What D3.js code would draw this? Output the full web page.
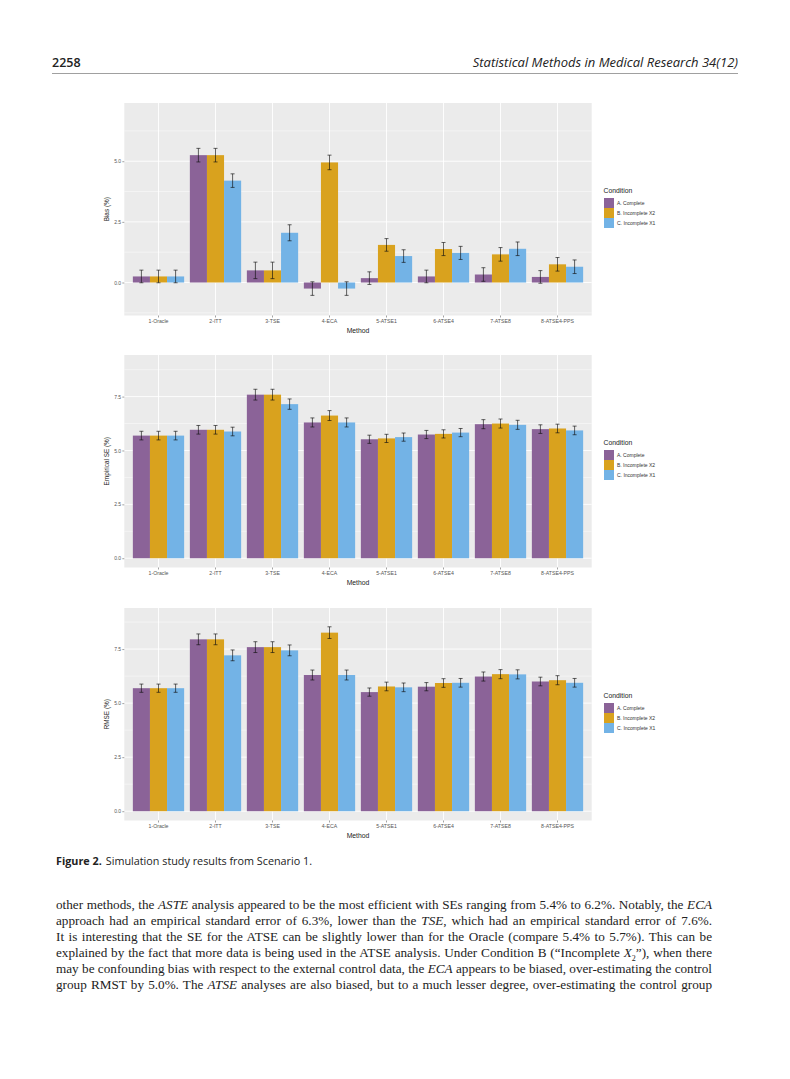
<!DOCTYPE html>
<html>
<head>
<meta charset="utf-8">
<script src="https://cdn.jsdelivr.net/npm/d3@7"></script>
<style>
  body { margin: 0; background: #fff; }
  #page { position: relative; width: 790px; height: 1079px; overflow: hidden; }
  svg { position: absolute; left: 0; top: 0; }
  .body-text { position: absolute; left: 56px; width: 656px; font-family: "Liberation Serif", "Times New Roman", serif;
    font-size: 13.2px; color: #222; }
  .body-text div { height: 16px; line-height: 16px; text-align: justify; text-align-last: justify; white-space: nowrap; }
  .body-text div.j { white-space: normal; }
</style>
</head>
<body>
<div id="page"></div>
<script>
/* chart data */
const methods = ["1-Oracle", "2-ITT", "3-TSE", "4-ECA", "5-ATSE1", "6-ATSE4", "7-ATSE8", "8-ATSE4-PPS"]
const conditions = ["A. Complete", "B. Incomplete X2", "C. Incomplete X1"]
const condition_colors = ["#8b6398", "#d9a21e", "#73b3e6"]

// panel 1 : Bias (%)
const bias_A = [0.25, 5.25, 0.50, -0.25, 0.18, 0.25, 0.33, 0.23]
const bias_B = [0.25, 5.25, 0.50, 4.95, 1.55, 1.38, 1.16, 0.75]
const bias_C = [0.25, 4.20, 2.05, -0.25, 1.09, 1.22, 1.39, 0.65]
const bias_err_A = [0.26, 0.28, 0.34, 0.28, 0.26, 0.26, 0.28, 0.26]
const bias_err_B = [0.26, 0.28, 0.34, 0.30, 0.26, 0.27, 0.28, 0.28]
const bias_err_C = [0.26, 0.28, 0.33, 0.28, 0.26, 0.27, 0.28, 0.28]

// panel 2 : Empirical SE (%)
const se_A = [5.69, 5.96, 7.59, 6.30, 5.52, 5.74, 6.22, 5.99]
const se_B = [5.69, 5.96, 7.59, 6.62, 5.56, 5.77, 6.25, 6.02]
const se_C = [5.69, 5.88, 7.15, 6.30, 5.62, 5.83, 6.19, 5.93]
const se_err_A = [0.20, 0.20, 0.25, 0.21, 0.19, 0.19, 0.21, 0.20]
const se_err_B = [0.20, 0.20, 0.25, 0.23, 0.19, 0.19, 0.21, 0.20]
const se_err_C = [0.20, 0.20, 0.24, 0.21, 0.19, 0.19, 0.21, 0.20]

// panel 3 : RMSE (%)
const rmse_A = [5.69, 7.95, 7.59, 6.30, 5.51, 5.76, 6.23, 6.00]
const rmse_B = [5.69, 7.95, 7.59, 8.26, 5.77, 5.93, 6.34, 6.06]
const rmse_C = [5.69, 7.21, 7.44, 6.30, 5.73, 5.94, 6.33, 5.94]
const rmse_err_A = [0.19, 0.25, 0.25, 0.23, 0.19, 0.19, 0.21, 0.20]
const rmse_err_B = [0.19, 0.25, 0.25, 0.27, 0.20, 0.20, 0.21, 0.21]
const rmse_err_C = [0.19, 0.25, 0.25, 0.23, 0.20, 0.20, 0.21, 0.20]

const y_ticks = [0, 2.5, 5, 7.5]
const y_minor = [-1.25, 1.25, 3.75, 6.25, 8.75]

const panels = [
    { title: "Bias (%)", top: 103, domain: [-1.36, 7.4],
      values: [bias_A, bias_B, bias_C], errors: [bias_err_A, bias_err_B, bias_err_C] },
    { title: "Empirical SE (%)", top: 355, domain: [-0.43, 9.43],
      values: [se_A, se_B, se_C], errors: [se_err_A, se_err_B, se_err_C] },
    { title: "RMSE (%)", top: 608, domain: [-0.43, 9.4],
      values: [rmse_A, rmse_B, rmse_C], errors: [rmse_err_A, rmse_err_B, rmse_err_C] }
]

/* layout */
const plot = { left: 124.3, right: 591.7, height: 212.5 }
const sans = "'Liberation Sans', Arial, sans-serif"

const svg = d3.select("#page").append("svg")
    .attr("width", 790)
    .attr("height", 1079)

// page header
svg.append("text").attr("x", 52).attr("y", 66.5)
    .attr("font-family", "'Open Sans', sans-serif").attr("font-weight", 600)
    .attr("font-size", 12.5).attr("fill", "#222").text("2258")
svg.append("text").attr("x", 738).attr("y", 66.5).attr("text-anchor", "end")
    .attr("font-family", "'Open Sans', sans-serif").attr("font-style", "italic")
    .attr("font-size", 13).attr("fill", "#222").text("Statistical Methods in Medical Research 34(12)")
svg.append("line").attr("x1", 52).attr("x2", 738).attr("y1", 73.5).attr("y2", 73.5)
    .attr("stroke", "#777").attr("stroke-width", 0.7)

// x scales shared by all panels (ggplot style dodge, width 0.9)
const xScale = d3.scaleBand().domain(methods).range([plot.left, plot.right])
    .paddingInner(0.1).paddingOuter(0.15)
const xInner = d3.scaleBand().domain(d3.range(conditions.length)).range([0, xScale.bandwidth()])

function build_panel(p) {
    const y = d3.scaleLinear().domain(p.domain).range([p.top + plot.height, p.top])
    const g = svg.append("g")

    // grey background
    g.append("rect").attr("x", plot.left).attr("y", p.top)
        .attr("width", plot.right - plot.left).attr("height", plot.height)
        .attr("fill", "#ebebeb")

    const inDomain = v => v >= p.domain[0] && v <= p.domain[1]

    // minor grid
    g.selectAll(".minor").data(y_minor.filter(inDomain)).join("line")
        .attr("x1", plot.left).attr("x2", plot.right)
        .attr("y1", d => y(d)).attr("y2", d => y(d))
        .attr("stroke", "#fff").attr("stroke-width", 0.45)
    // major grid
    g.selectAll(".major").data(y_ticks.filter(inDomain)).join("line")
        .attr("x1", plot.left).attr("x2", plot.right)
        .attr("y1", d => y(d)).attr("y2", d => y(d))
        .attr("stroke", "#fff").attr("stroke-width", 0.9)
    g.selectAll(".vgrid").data(methods).join("line")
        .attr("x1", d => xScale(d) + xScale.bandwidth() / 2).attr("x2", d => xScale(d) + xScale.bandwidth() / 2)
        .attr("y1", p.top).attr("y2", p.top + plot.height)
        .attr("stroke", "#fff").attr("stroke-width", 0.9)

    // bars
    p.values.forEach((series, ci) => {
        g.selectAll(".bar" + ci).data(series).join("rect")
            .attr("x", (d, i) => xScale(methods[i]) + xInner(ci))
            .attr("width", xInner.bandwidth())
            .attr("y", d => y(Math.max(0, d)))
            .attr("height", d => Math.abs(y(d) - y(0)))
            .attr("fill", condition_colors[ci])
    })

    // error bars
    p.values.forEach((series, ci) => {
        series.forEach((v, i) => {
            const cx = xScale(methods[i]) + xInner(ci) + xInner.bandwidth() / 2
            const e = p.errors[ci][i]
            const eb = g.append("g").attr("stroke", "#111").attr("stroke-width", 0.65)
            eb.append("line").attr("x1", cx).attr("x2", cx).attr("y1", y(v - e)).attr("y2", y(v + e))
            eb.append("line").attr("x1", cx - 2).attr("x2", cx + 2).attr("y1", y(v - e)).attr("y2", y(v - e))
            eb.append("line").attr("x1", cx - 2).attr("x2", cx + 2).attr("y1", y(v + e)).attr("y2", y(v + e))
        })
    })

    // y axis
    const yAxis = d3.axisLeft(y).tickValues(y_ticks.filter(inDomain))
        .tickFormat(d3.format(".1f")).tickSize(2).tickPadding(1.2)
    const ya = g.append("g").attr("transform", "translate(" + plot.left + ",0)").call(yAxis)
    ya.select(".domain").remove()
    ya.selectAll("line").attr("stroke", "#444").attr("stroke-width", 0.5)
    ya.selectAll("text").attr("font-family", sans).attr("font-size", 5).attr("fill", "#555")

    // x axis
    const xAxis = d3.axisBottom(xScale).tickSize(2).tickPadding(2)
    const xa = g.append("g").attr("transform", "translate(0," + (p.top + plot.height) + ")").call(xAxis)
    xa.select(".domain").remove()
    xa.selectAll("line").attr("stroke", "#444").attr("stroke-width", 0.5)
    xa.selectAll("text").attr("font-family", sans).attr("font-size", 5.2).attr("fill", "#555")

    // axis titles
    g.append("text").attr("x", (plot.left + plot.right) / 2).attr("y", p.top + plot.height + 17)
        .attr("text-anchor", "middle").attr("font-family", sans).attr("font-size", 6.8)
        .attr("fill", "#222").text("Method")
    g.append("text")
        .attr("transform", "translate(108.8," + (p.top + plot.height / 2) + ") rotate(-90)")
        .attr("text-anchor", "middle").attr("font-family", sans).attr("font-size", 6.4)
        .attr("fill", "#222").text(p.title)

    // legend
    const lg = g.append("g").attr("transform", "translate(603.5," + (p.top + 90) + ")")
    lg.append("text").attr("x", 0).attr("y", 0).attr("font-family", sans)
        .attr("font-size", 6.8).attr("fill", "#222").text("Condition")
    conditions.forEach((c, ci) => {
        lg.append("rect").attr("x", 0.5).attr("y", 5 + ci * 10).attr("width", 10).attr("height", 10)
            .attr("fill", condition_colors[ci])
        lg.append("text").attr("x", 13.5).attr("y", 11.8 + ci * 10).attr("font-family", sans)
            .attr("font-size", 5).attr("fill", "#333").text(c)
    })
}

panels.forEach(build_panel)

// caption
const cap = svg.append("text").attr("x", 56).attr("y", 865)
    .attr("font-family", "'Open Sans', sans-serif").attr("font-size", 10.8).attr("fill", "#222")
cap.append("tspan").attr("font-weight", "bold").text("Figure  2.")
cap.append("tspan").attr("dx", 4).text("Simulation study results from Scenario 1.")

// body text
const body_lines = [
    "other methods, the <i>ASTE</i> analysis appeared to be the most efficient with SEs ranging from 5.4% to 6.2%. Notably, the <i>ECA</i>",
    "approach had an empirical standard error of 6.3%, lower than the <i>TSE</i>, which had an empirical standard error of 7.6%.",
    "It is interesting that the SE for the ATSE can be slightly lower than for the Oracle (compare 5.4% to 5.7%). This can be",
    "explained by the fact that more data is being used in the ATSE analysis. Under Condition B (“Incomplete <i>X</i><sub style='font-size:8px'>2</sub>”), when there",
    "may be confounding bias with respect to the external control data, the <i>ECA</i> appears to be biased, over-estimating the control",
    "group RMST by 5.0%. The <i>ATSE</i> analyses are also biased, but to a much lesser degree, over-estimating the control group"
]
const bt = d3.select("#page").append("div").attr("class", "body-text").style("top", "897px")
bt.selectAll("div").data(body_lines).join("div").attr("class", "j").html(d => d)
</script>
</body>
</html>
